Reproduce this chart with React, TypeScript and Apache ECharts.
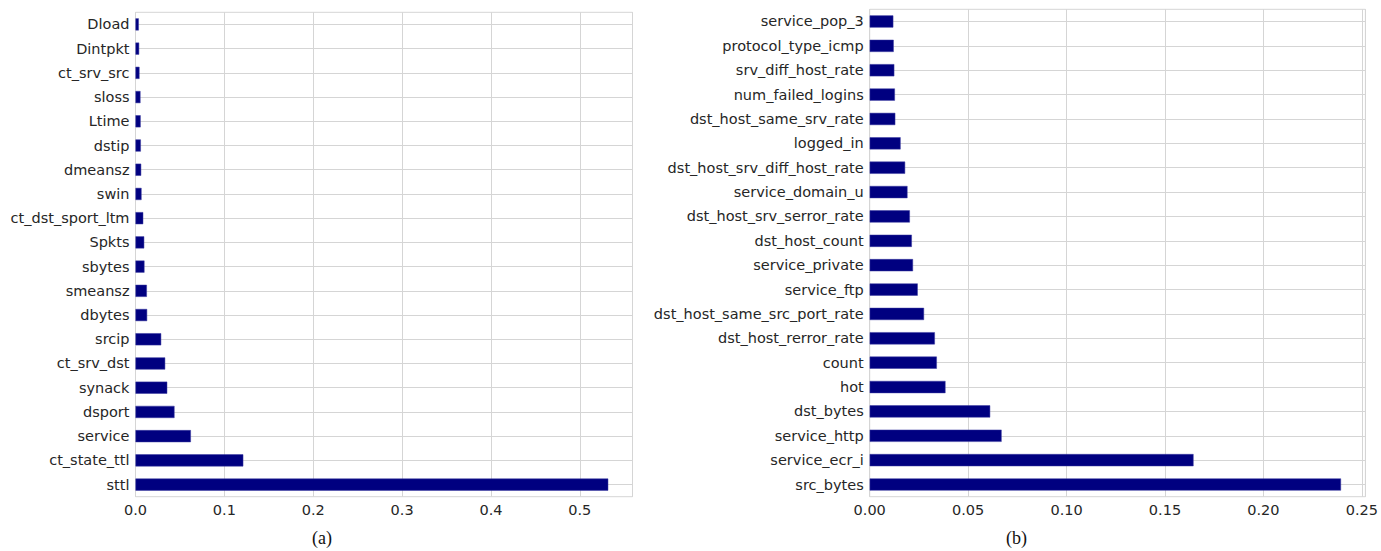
import React, { useEffect, useRef } from "react";
import * as echarts from "echarts";

// (a) feature importances, listed from the bottom bar upward
const featuresA = [
  "sttl", "ct_state_ttl", "service", "dsport", "synack", "ct_srv_dst", "srcip",
  "dbytes", "smeansz", "sbytes", "Spkts", "ct_dst_sport_ltm", "swin", "dmeansz",
  "dstip", "Ltime", "sloss", "ct_srv_src", "Dintpkt", "Dload",
];
const importanceA = [
  0.532, 0.1213, 0.0623, 0.0439, 0.0357, 0.0334, 0.0289, 0.0131, 0.0128, 0.0101,
  0.0098, 0.0087, 0.0068, 0.0064, 0.006, 0.0058, 0.0056, 0.0045, 0.0041, 0.0037,
];

// (b) feature importances, listed from the bottom bar upward
const featuresB = [
  "src_bytes", "service_ecr_i", "service_http", "dst_bytes", "hot", "count",
  "dst_host_rerror_rate", "dst_host_same_src_port_rate", "service_ftp",
  "service_private", "dst_host_count", "dst_host_srv_serror_rate",
  "service_domain_u", "dst_host_srv_diff_host_rate", "logged_in",
  "dst_host_same_srv_rate", "num_failed_logins", "srv_diff_host_rate",
  "protocol_type_icmp", "service_pop_3",
];
const importanceB = [
  0.2394, 0.1645, 0.067, 0.0612, 0.0385, 0.0341, 0.0331, 0.0276, 0.0244, 0.022,
  0.0214, 0.0204, 0.0192, 0.018, 0.0157, 0.013, 0.0128, 0.0125, 0.0122, 0.012,
];

const ticksA = [0, 0.1, 0.2, 0.3, 0.4, 0.5];
const ticksB = [0, 0.05, 0.1, 0.15, 0.2, 0.25];
const captions = ["(a)", "(b)"];

const FONT = "'DejaVu Sans', sans-serif";
const TEXT = "#262626";
const GRID = "#d5d5d5";
const BAR = "#000080";

function valueAxis(gridIndex: number, max: number, interval: number, ticks: number[], digits: number) {
  return {
    type: "value",
    gridIndex,
    min: 0,
    max,
    interval,
    axisLine: { show: false },
    axisTick: { show: false },
    axisLabel: {
      color: TEXT,
      fontFamily: FONT,
      fontSize: 14.5,
      margin: 6,
      showMaxLabel: false,
      formatter: (v: number) =>
        ticks.some((t) => Math.abs(t - v) < 1e-9) ? v.toFixed(digits) : "",
    },
    splitLine: { show: true, lineStyle: { color: GRID, width: 1 } },
  };
}

function categoryAxis(gridIndex: number, data: string[]) {
  return {
    type: "category",
    gridIndex,
    data,
    axisLine: { show: false },
    axisTick: { show: false },
    axisLabel: { color: TEXT, fontFamily: FONT, fontSize: 14.5, margin: 6 },
    splitLine: { show: true, alignWithLabel: true, lineStyle: { color: GRID, width: 1 } },
  };
}

export default function App() {
  const ref = useRef<HTMLDivElement>(null);

  useEffect(() => {
    if (!ref.current) return;
    const chart = echarts.init(ref.current, undefined, { renderer: "svg" });
    chart.setOption({
      animation: false,
      backgroundColor: "#ffffff",
      grid: [
        { left: 135.5, top: 12.3, width: 497, height: 484.4, show: true, borderColor: GRID, borderWidth: 1, containLabel: false },
        { left: 869.7, top: 9.3, width: 499.6, height: 487.4, show: true, borderColor: GRID, borderWidth: 1, containLabel: false },
      ],
      xAxis: [
        valueAxis(0, 0.5593, 0.1, ticksA, 1),
        valueAxis(1, 0.2518, 0.05, ticksB, 2),
      ],
      yAxis: [categoryAxis(0, featuresA), categoryAxis(1, featuresB)],
      series: [
        {
          type: "bar",
          xAxisIndex: 0,
          yAxisIndex: 0,
          data: importanceA,
          barWidth: "50%",
          itemStyle: { color: BAR, borderColor: "#3a3aa0", borderWidth: 0.5 },
        },
        {
          type: "bar",
          xAxisIndex: 1,
          yAxisIndex: 1,
          data: importanceB,
          barWidth: "50%",
          itemStyle: { color: BAR, borderColor: "#3a3aa0", borderWidth: 0.5 },
        },
      ],
      graphic: [
        {
          type: "text",
          left: 312,
          top: 529,
          style: { text: captions[0], font: "18px 'Liberation Serif', serif", fill: "#111" },
        },
        {
          type: "text",
          left: 1006,
          top: 529,
          style: { text: captions[1], font: "18px 'Liberation Serif', serif", fill: "#111" },
        },
      ],
    });
    return () => chart.dispose();
  }, []);

  return (
    <div
      ref={ref}
      style={{ position: "fixed", left: 0, top: 0, width: 1381, height: 551, background: "#fff" }}
    />
  );
}
